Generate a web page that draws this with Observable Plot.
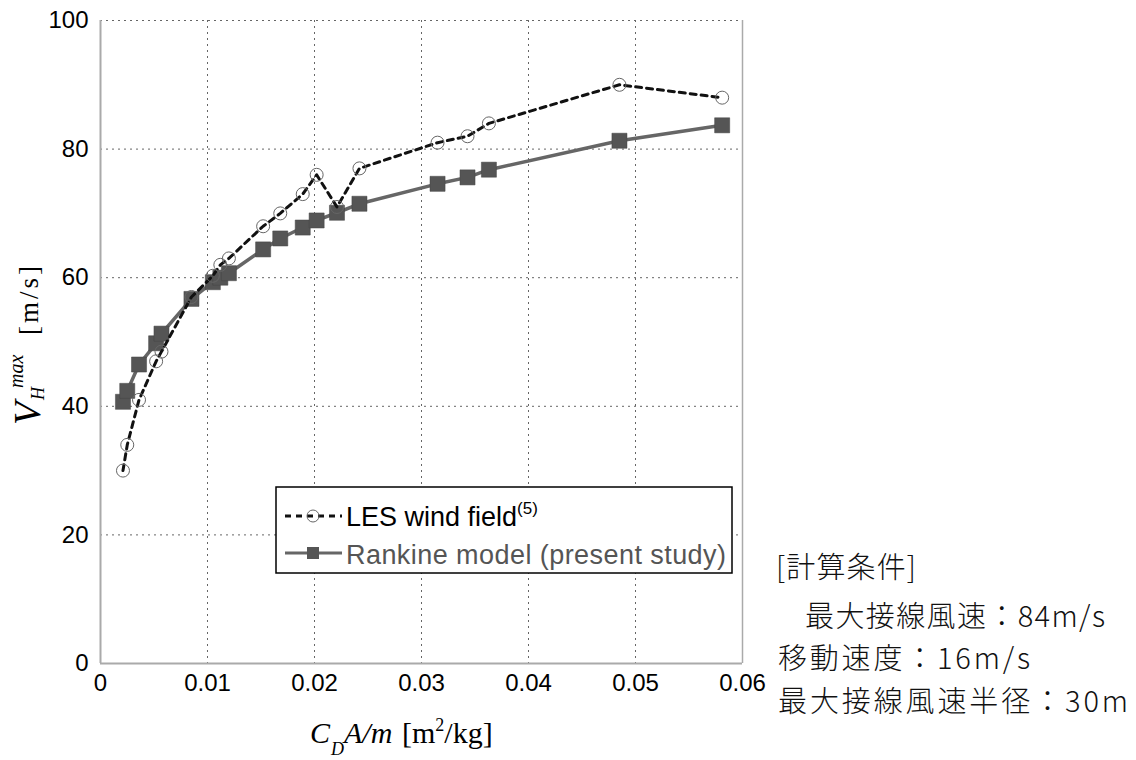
<!DOCTYPE html>
<html><head><meta charset="utf-8">
<script src="https://cdn.jsdelivr.net/npm/d3@7"></script>
<script src="https://cdn.jsdelivr.net/npm/@observablehq/plot@0.6"></script>
<style>body{margin:0;background:#fff;} #chart{width:1136px;height:760px;}</style>
</head><body><div id="chart"></div>
<script>
// ---- data ----
const cdam = [0.0021, 0.0025, 0.0036, 0.0052, 0.0057, 0.0085, 0.0105, 0.0112, 0.0120, 0.0152, 0.0168, 0.0189, 0.0202, 0.0221, 0.0242, 0.0315, 0.0343, 0.0363, 0.0485, 0.0581];
const lesWind = [30, 34, 41, 47, 48.5, 57, 60.3, 62, 63, 68, 70, 73, 76, 71, 77, 81, 82, 84, 90, 88];
const rankine = [40.7, 42.4, 46.5, 49.8, 51.3, 56.7, 59.3, 60.0, 60.7, 64.4, 66.1, 67.8, 68.9, 70.1, 71.5, 74.6, 75.6, 76.8, 81.3, 83.7];
const xTicks = [0, 0.01, 0.02, 0.03, 0.04, 0.05, 0.06];
const xTickLabels = ["0", "0.01", "0.02", "0.03", "0.04", "0.05", "0.06"];
const yTicks = [0, 20, 40, 60, 80, 100];
const seriesNames = ["LES wind field", "Rankine model (present study)"];
const lesRef = "(5)";
const conditions = ["[計算条件]", "最大接線風速：84m/s", "移動速度：16m/s", "最大接線風速半径：30m"];

const rows = cdam.map((x, i) => ({x, les: lesWind[i], rank: rankine[i]}));

const svg = Plot.plot({
  width: 1136, height: 760,
  marginLeft: 100, marginRight: 394, marginTop: 20, marginBottom: 97,
  style: {fontFamily: "'Liberation Sans Narrow','Liberation Sans',Arial,sans-serif", fontSize: "24px", color: "#000", background: "#fff"},
  x: {domain: [0, 0.06]},
  y: {domain: [0, 100]},
  marks: [
    Plot.gridX(xTicks, {stroke: "#666", strokeOpacity: 1, strokeDasharray: "2,4"}),
    Plot.gridY(yTicks, {stroke: "#666", strokeOpacity: 1, strokeDasharray: "2,4"}),
    Plot.ruleX([0], {stroke: "#aaa", strokeWidth: 2}),
    Plot.ruleX([0.06], {stroke: "#aaa", strokeWidth: 1.5}),
    Plot.ruleY([0], {stroke: "#aaa", strokeWidth: 2}),
    Plot.axisX(xTicks, {tickSize: 0, tickPadding: 10, label: null, tickFormat: d => xTickLabels[xTicks.indexOf(d)]}),
    Plot.axisY(yTicks, {tickSize: 0, tickPadding: 12, label: null}),
    Plot.line(rows, {x: "x", y: "rank", stroke: "#666", strokeWidth: 3.5}),
    Plot.dot(rows, {x: "x", y: "rank", symbol: "square", r: 8.5, fill: "#555", stroke: "#444", strokeWidth: 0.5}),
    Plot.line(rows, {x: "x", y: "les", stroke: "#111", strokeWidth: 3, strokeDasharray: "6,5"}),
    Plot.dot(rows, {x: "x", y: "les", r: 6.5, stroke: "#666", strokeWidth: 1, fill: "none"})
  ]
});
document.getElementById("chart").appendChild(svg);

const s = d3.select(svg);
const extra = s.append("g").attr("text-anchor", "start");

// y-axis title
const yl = extra.append("text").attr("transform", "translate(40,425) rotate(-90)")
  .attr("font-family", "'Liberation Serif','Times New Roman',serif").attr("fill", "#000");
yl.append("tspan").attr("x", 0).attr("y", 0).attr("font-size", 38).attr("font-style", "italic").text("V");
yl.append("tspan").attr("x", 25).attr("y", 4).attr("font-size", 18).attr("font-style", "italic").text("H");
yl.append("tspan").attr("x", 37).attr("y", -17).attr("font-size", 20).attr("font-style", "italic").text("max");
yl.append("tspan").attr("x", 90).attr("y", -2).attr("font-size", 27).attr("letter-spacing", 3).text("[m/s]");

// x-axis title
const xl = extra.append("text").attr("font-family", "'Liberation Serif','Times New Roman',serif").attr("fill", "#000");
xl.append("tspan").attr("x", 310).attr("y", 743).attr("font-size", 30).attr("font-style", "italic").text("C");
xl.append("tspan").attr("x", 331).attr("y", 755).attr("font-size", 18).attr("font-style", "italic").text("D");
xl.append("tspan").attr("x", 344).attr("y", 743).attr("font-size", 30).attr("font-style", "italic").text("A/m");
xl.append("tspan").attr("x", 402).attr("y", 743).attr("font-size", 30).text("[m");
xl.append("tspan").attr("y", 731).attr("font-size", 18).text("2");
xl.append("tspan").attr("y", 743).attr("font-size", 30).text("/kg]");

// legend
const lg = extra.append("g");
lg.append("rect").attr("x", 276).attr("y", 487).attr("width", 456).attr("height", 86)
  .attr("fill", "#fff").attr("stroke", "#000").attr("stroke-width", 1.5);
lg.append("line").attr("x1", 285).attr("x2", 342).attr("y1", 516).attr("y2", 516)
  .attr("stroke", "#111").attr("stroke-width", 3).attr("stroke-dasharray", "6,5");
lg.append("circle").attr("cx", 313).attr("cy", 516).attr("r", 6).attr("fill", "none").attr("stroke", "#666");
const t1 = lg.append("text").attr("x", 346).attr("y", 526).attr("font-family", "'Liberation Sans',Arial,sans-serif")
  .attr("font-size", 27).attr("fill", "#000");
t1.append("tspan").text(seriesNames[0]);
t1.append("tspan").attr("font-size", 17).attr("dy", -12).text(lesRef);
lg.append("line").attr("x1", 285).attr("x2", 342).attr("y1", 553).attr("y2", 553)
  .attr("stroke", "#666").attr("stroke-width", 3);
lg.append("rect").attr("x", 307).attr("y", 547).attr("width", 12).attr("height", 12).attr("fill", "#555");
lg.append("text").attr("x", 346).attr("y", 564).attr("font-family", "'Liberation Sans',Arial,sans-serif")
  .attr("font-size", 27).attr("fill", "#555").attr("textLength", 380).attr("lengthAdjust", "spacing").text(seriesNames[1]);

// calculation conditions
const condPos = [[776, 578, 140], [805, 627, 300], [778, 669, 252], [778, 712, 350]];
conditions.forEach((c, i) => {
  extra.append("text").attr("x", condPos[i][0]).attr("y", condPos[i][1])
    .attr("font-family", "'Noto Sans CJK JP',sans-serif").attr("font-size", 29).attr("font-weight", 300)
    .attr("fill", "#111").attr("textLength", condPos[i][2]).attr("lengthAdjust", "spacing").text(c);
});
</script>
</body></html>
